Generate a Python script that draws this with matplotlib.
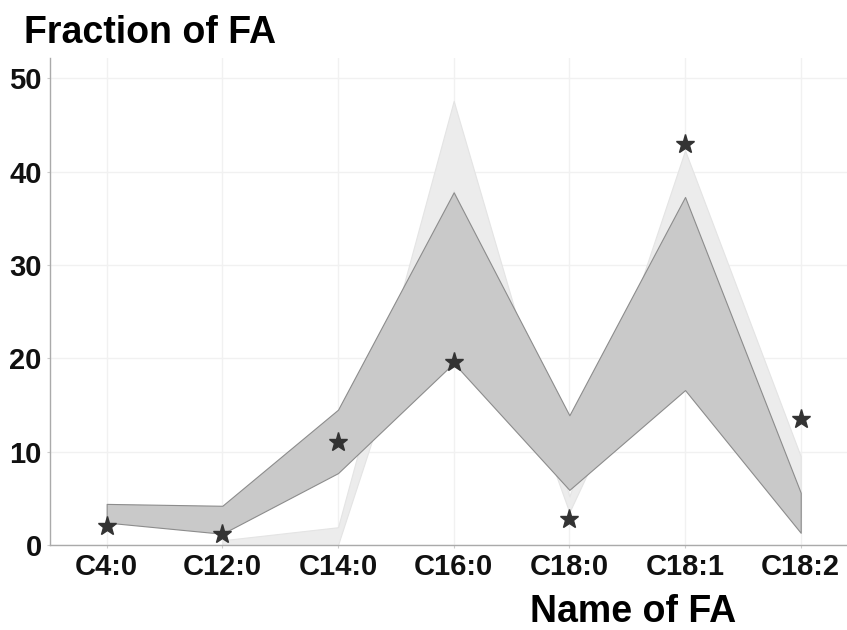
import numpy as np
import matplotlib.pyplot as plt

plt.rcParams['font.family'] = ['Liberation Sans', 'DejaVu Sans']

# fatty acid names on x axis
fa_names = ['C4:0', 'C12:0', 'C14:0', 'C16:0', 'C18:0', 'C18:1', 'C18:2']

# light band (range of reference group), no value for C4:0
light_low = [np.nan, 0.0, 0.0, 38.0, 3.5, 30.0, 3.0]
light_high = [np.nan, 0.5, 1.9, 47.6, 5.2, 42.3, 9.5]

# dark band (range of second group)
dark_low = [2.4, 1.2, 7.7, 19.5, 5.9, 16.6, 1.3]
dark_high = [4.4, 4.2, 14.5, 37.8, 13.9, 37.3, 5.6]

# sample values (stars)
sample = [2.0, 1.2, 11.0, 19.6, 2.8, 43.0, 13.5]

x = np.arange(len(fa_names))

fig = plt.figure(figsize=(8.47, 6.3), dpi=100)
ax = fig.add_axes([0.059, 0.135, 0.941, 0.773])

ax.fill_between(x, light_low, light_high, facecolor='#ececec',
                edgecolor='#e4e4e4', linewidth=0.8, zorder=2)
ax.fill_between(x, dark_low, dark_high, facecolor='#c9c9c9',
                edgecolor='#8c8c8c', linewidth=0.8, zorder=3)
ax.plot(x, sample, linestyle='none', marker='*', markersize=14,
        color='#333333', zorder=4)

ax.set_xlim(-0.49, 6.4)
ax.set_ylim(0, 52.2)
ax.set_xticks(x)
ax.set_xticklabels(fa_names)
ax.set_yticks([0, 10, 20, 30, 40, 50])
ax.tick_params(axis='both', labelsize=21, length=2, color='#cccccc', pad=4)
for lab in ax.get_xticklabels() + ax.get_yticklabels():
    lab.set_fontweight('bold')
    lab.set_color('#111111')

ax.grid(True, color='#f1f1f1', linewidth=1.0, zorder=0)
ax.set_axisbelow(True)
for side in ['top', 'right']:
    ax.spines[side].set_visible(False)
for side in ['left', 'bottom']:
    ax.spines[side].set_color('#aaaaaa')
    ax.spines[side].set_linewidth(1.0)

fig.text(0.028, 1 - 43 / 630, 'Fraction of FA', fontsize=27,
         fontweight='bold', va='baseline', ha='left')
fig.text(530 / 847, 1 - 622 / 630, 'Name of FA', fontsize=27,
         fontweight='bold', va='baseline', ha='left')

fig.savefig('out.png', dpi=100)
